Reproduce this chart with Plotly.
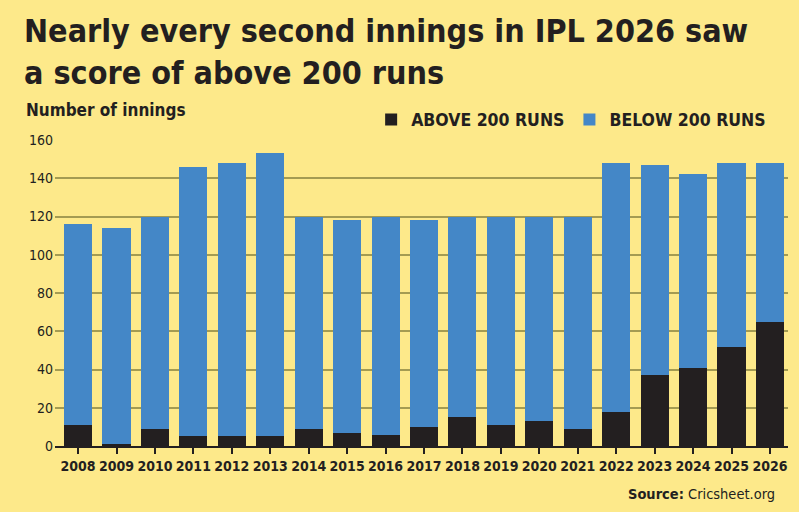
import plotly.graph_objects as go

years = ["2008", "2009", "2010", "2011", "2012", "2013", "2014", "2015", "2016", "2017",
         "2018", "2019", "2020", "2021", "2022", "2023", "2024", "2025", "2026"]
above_200 = [11, 1, 9, 5, 5, 5, 9, 7, 6, 10, 15, 11, 13, 9, 18, 37, 41, 52, 65]
total_innings = [116, 114, 120, 146, 148, 153, 120, 118, 120, 118, 120, 120, 120, 120, 148, 147, 142, 148, 148]
below_200 = [t - a for t, a in zip(total_innings, above_200)]
y_ticks = [0, 20, 40, 60, 80, 100, 120, 140, 160]

BG = "#fde98a"
BLUE = "#4487c7"
BLACK = "#231f20"
GRID = "#a49b52"
FONT = "DejaVu Sans Condensed, Roboto, sans-serif"

fig = go.Figure()
fig.add_trace(go.Bar(x=years, y=above_200, name="ABOVE 200 RUNS", marker_color=BLACK,
                     marker_line_width=0))
fig.add_trace(go.Bar(x=years, y=below_200, name="BELOW 200 RUNS", marker_color=BLUE,
                     marker_line_width=0))

fig.update_layout(
    barmode="stack",
    bargap=0.27,
    width=799, height=512,
    paper_bgcolor=BG, plot_bgcolor=BG,
    margin=dict(l=55, r=11, t=140, b=66),
    font=dict(family=FONT, color=BLACK),
    showlegend=True,
    legend=dict(orientation="h", x=0.977, xanchor="right", y=1.008, yanchor="bottom",
                font=dict(family=FONT, size=17.5, color=BLACK, weight="bold"),
                bgcolor="rgba(0,0,0,0)", traceorder="normal", itemwidth=30,
                tracegroupgap=0),
    xaxis=dict(range=[-0.6, 18.47], showgrid=False, showline=True, linecolor=BLACK,
               linewidth=2, ticks="outside", ticklen=6, tickcolor=BLACK, tickwidth=1.5,
               tickangle=0,
               tickfont=dict(family=FONT, size=14, color=BLACK, weight="bold")),
    yaxis=dict(range=[0, 160], tickvals=y_ticks, showgrid=True, gridcolor=GRID, gridwidth=1.5,
               zeroline=False, showline=False, ticks="", ticklabelstandoff=1,
               tickfont=dict(family=FONT, size=14, color=BLACK)),
)

fig.add_annotation(text="Nearly every second innings in IPL 2026 saw<br>a score of above 200 runs",
                   xref="paper", yref="paper", x=-0.045, y=1.425, xanchor="left", yanchor="top",
                   align="left", showarrow=False,
                   font=dict(family=FONT, size=32, color=BLACK, weight="bold"))
fig.add_annotation(text="Number of innings", xref="paper", yref="paper", x=-0.042, y=1.058,
                   xanchor="left", yanchor="bottom", showarrow=False,
                   font=dict(family=FONT, size=17, color=BLACK, weight="bold"))
fig.add_annotation(text="<b>Source:</b> Cricsheet.org", xref="paper", yref="paper", x=0.985, y=-0.124,
                   xanchor="right", yanchor="top", showarrow=False,
                   font=dict(family=FONT, size=14.5, color=BLACK))

fig.write_html("out.html")
